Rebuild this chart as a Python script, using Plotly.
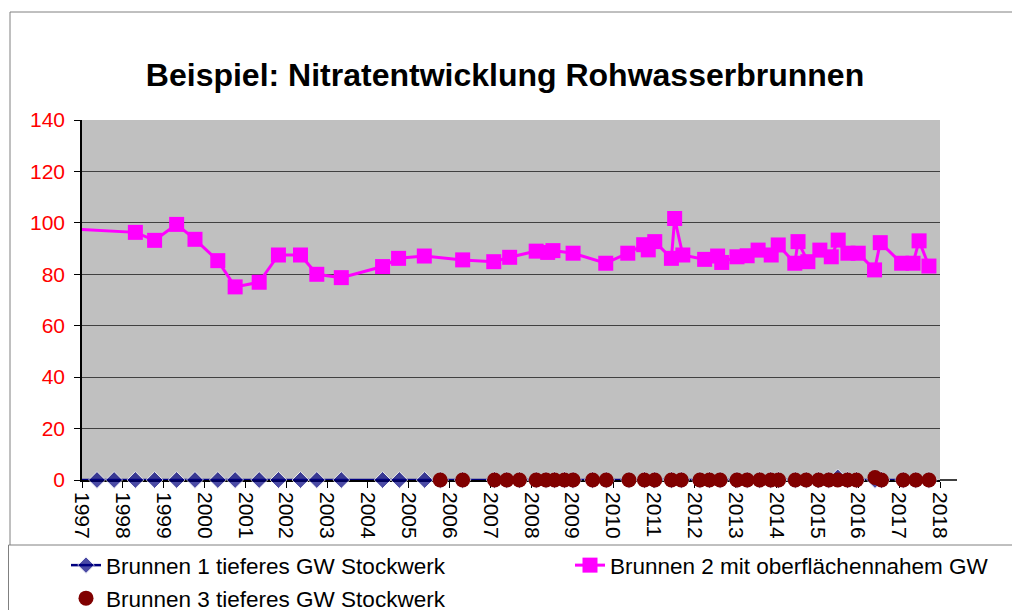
import plotly.graph_objects as go

# ---- data ----
b1_dates = ["1996-07-01", "1997-05-15", "1997-10-15", "1998-04-23", "1998-10-12", "1999-04-27",
            "1999-10-08", "2000-04-29", "2000-10-01", "2001-05-04", "2001-10-23", "2002-05-08",
            "2002-10-01", "2003-05-08", "2004-05-11", "2004-10-08", "2005-05-22",
            "2005-10-08", "2006-04-27", "2007-02-06", "2007-05-26", "2007-09-16", "2008-02-13",
            "2008-05-11", "2008-07-27", "2008-10-23", "2009-01-08", "2009-07-02", "2009-10-31",
            "2010-05-23", "2010-10-08", "2011-01-08", "2011-06-06", "2011-09-02", "2012-02-16",
            "2012-05-11", "2012-08-14", "2013-01-12", "2013-04-13", "2013-08-03", "2013-11-10",
            "2014-01-19", "2014-06-17", "2014-09-23", "2015-01-12", "2015-04-13", "2015-07-02",
            "2015-09-27", "2015-12-16", "2016-05-30", "2016-07-27", "2017-02-06", "2017-05-30",
            "2017-09-24"]
b1_values = [0] * 46 + [1.0] + [0] * 7

b2_dates = ["1996-07-01", "1998-04-23", "1998-10-12", "1999-04-27", "1999-10-08", "2000-04-29",
            "2000-10-01", "2001-05-04", "2001-10-23", "2002-05-08", "2002-10-01", "2003-05-08",
            "2004-05-11", "2004-10-01", "2005-05-19", "2006-04-27", "2007-01-30", "2007-06-21",
            "2008-02-13", "2008-05-26", "2008-07-12", "2009-01-08", "2009-10-27", "2010-05-12",
            "2010-10-01", "2010-11-11", "2011-01-08", "2011-06-06", "2011-07-05", "2011-09-16",
            "2012-03-29", "2012-07-23", "2012-08-29", "2013-01-12", "2013-04-13", "2013-07-20",
            "2013-11-14", "2014-01-16", "2014-06-13", "2014-07-12", "2014-10-08", "2015-01-23",
            "2015-05-05", "2015-07-06", "2015-10-01", "2016-01-01", "2016-05-26", "2016-07-16",
            "2017-01-23", "2017-05-05", "2017-06-28", "2017-09-24"]
b2_values = [97.9, 96.3, 93.2, 99.4, 93.6, 85.3, 75.1, 76.9, 87.5, 87.5, 80.0, 78.7,
             83.0, 86.2, 87.1, 85.6, 84.9, 86.6, 89.0, 88.5, 89.2, 88.2, 84.3, 88.2,
             91.5, 89.5, 92.7, 86.2, 101.7, 87.5, 85.8, 87.1, 84.6, 86.8, 87.2, 89.4,
             87.5, 91.4, 84.3, 92.7, 84.9, 89.4, 86.8, 93.3, 88.2, 88.2, 81.7, 92.3,
             84.3, 84.3, 93.0, 83.2]

b3_dates = ["2005-10-08", "2006-04-27", "2007-02-06", "2007-05-26", "2007-09-16", "2008-02-13",
            "2008-05-11", "2008-07-27", "2008-10-23", "2009-01-08", "2009-07-02", "2009-10-31",
            "2010-05-23", "2010-10-08", "2011-01-08", "2011-06-06", "2011-09-02", "2012-02-16",
            "2012-05-11", "2012-08-14", "2013-01-12", "2013-04-13", "2013-08-03", "2013-11-10",
            "2014-01-19", "2014-06-17", "2014-09-23", "2015-01-12", "2015-04-13", "2015-07-02",
            "2015-09-27", "2015-12-16", "2016-05-30", "2016-07-27", "2017-02-06", "2017-05-30",
            "2017-09-24"]
b3_values = [0] * 32 + [1.0] + [0] * 4

series_names = ["Brunnen 1 tieferes GW Stockwerk",
                "Brunnen 2 mit oberflächennahem GW",
                "Brunnen 3 tieferes GW Stockwerk"]
title_text = "Beispiel: Nitratentwicklung Rohwasserbrunnen"
year_ticks = [str(y) for y in range(1997, 2019)]

FONT = "Liberation Sans, Arial, sans-serif"
X_START = "1997-01-01"

# hide markers of points that lie before the visible axis start (only their line is seen)
b1_marker_sizes = [0 if d < X_START else 13 for d in b1_dates]

fig = go.Figure()
fig.add_trace(go.Scatter(x=b1_dates, y=b1_values, name=series_names[0], mode="lines+markers",
                         legend="legend", cliponaxis=False,
                         line=dict(color="#000080", width=2.5),
                         marker=dict(symbol="diamond", size=b1_marker_sizes, color="#000080")))
fig.add_trace(go.Scatter(x=b2_dates, y=b2_values, name=series_names[1], mode="lines+markers",
                         legend="legend2",
                         line=dict(color="#FF00FF", width=3),
                         marker=dict(symbol="square", size=15, color="#FF00FF")))
fig.add_trace(go.Scatter(x=b3_dates, y=b3_values, name=series_names[2], mode="markers",
                         legend="legend3", cliponaxis=False,
                         marker=dict(symbol="circle", size=15, color="#800000")))

W, H = 1020, 610
OFF = 8  # page body margin offset in the screenshot
L, R, T, B = 82 - OFF, 940 - OFF, 120 - OFF, 480 - OFF


def px(x):
    """screenshot x pixel -> paper coordinate"""
    return (x - OFF - L) / (R - L)


def py(y):
    """screenshot y pixel -> paper coordinate"""
    return (B - (y - OFF)) / (B - T)


shapes = [
    # outer chart frame
    dict(type="line", xref="paper", yref="paper", x0=px(10), x1=px(1040), y0=py(12), y1=py(12),
         line=dict(color="#808080", width=1)),
    dict(type="line", xref="paper", yref="paper", x0=px(10), x1=px(10), y0=py(12), y1=py(545),
         line=dict(color="#808080", width=1)),
    # legend frame
    dict(type="line", xref="paper", yref="paper", x0=px(8.5), x1=px(1040), y0=py(545), y1=py(545),
         line=dict(color="#808080", width=1)),
    dict(type="line", xref="paper", yref="paper", x0=px(8.5), x1=px(8.5), y0=py(545), y1=py(625),
         line=dict(color="#808080", width=1)),
    # x axis extension
    dict(type="line", xref="paper", yref="paper", x0=1.0, x1=px(957), y0=0, y1=0,
         line=dict(color="#000000", width=1.5)),
]

leg_common = dict(orientation="v", xanchor="left", yanchor="top",
                  font=dict(size=22.5, family=FONT), bgcolor="rgba(0,0,0,0)")

fig.update_layout(
    width=W, height=H,
    margin=dict(l=L, r=W - R, t=T, b=H - B, pad=0, autoexpand=False),
    paper_bgcolor="white",
    plot_bgcolor="#C0C0C0",
    font=dict(family=FONT, size=21, color="black"),
    title=dict(text="<b>" + title_text + "</b>", x=(505 - OFF) / W, xanchor="center",
               y=1 - (75 - OFF) / H, yanchor="middle", font=dict(size=32, family=FONT)),
    showlegend=True,
    legend=dict(x=px(66), y=py(544), **leg_common),
    legend2=dict(x=px(570), y=py(544), **leg_common),
    legend3=dict(x=px(66), y=py(577), **leg_common),
    shapes=shapes,
)

fig.update_xaxes(type="date", range=[X_START, "2018-01-01"],
                 tickvals=[f"{y}-01-01" for y in year_ticks], ticktext=year_ticks,
                 tickangle=90, ticks="outside", ticklen=6, tickcolor="black",
                 showline=True, linecolor="black", linewidth=1.5, layer="below traces",
                 showgrid=False, zeroline=False, tickfont=dict(size=21))
fig.update_yaxes(range=[0, 140], dtick=20, tick0=0,
                 ticks="outside", ticklen=6, tickcolor="black",
                 showline=True, linecolor="black", linewidth=1.5,
                 showgrid=True, gridcolor="#404040", gridwidth=1, zeroline=False,
                 ticklabelstandoff=5,
                 tickfont=dict(size=21, color="#FF0000"))

fig.write_html("out.html")
